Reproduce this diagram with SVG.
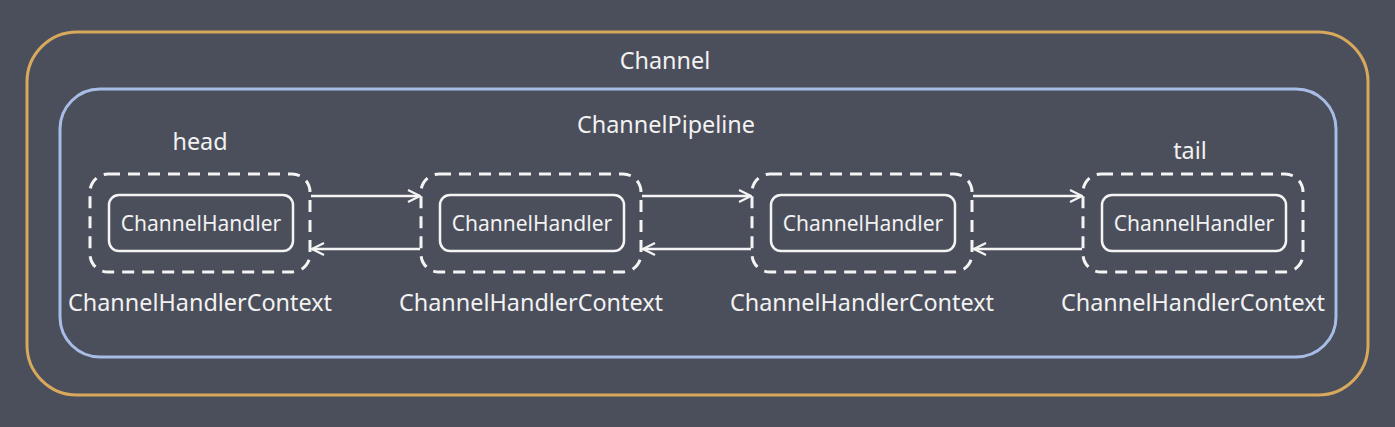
<svg xmlns="http://www.w3.org/2000/svg" width="1395" height="427" viewBox="0 0 1395 427">
<defs>
<style>
.t{font-family:"Noto Sans","Open Sans",sans-serif;fill:#f2f2f2;text-anchor:middle}
.lbl{font-size:23.4px}
.ch{font-size:21px}
.ctx{fill:none;stroke:#f4f4f4;stroke-width:3;stroke-dasharray:12 8}
.hd{fill:none;stroke:#f4f4f4;stroke-width:2.5}
.arr{fill:none;stroke:#f4f4f4;stroke-width:2.5}
</style>
<marker id="ah" viewBox="0 0 14 14" refX="13" refY="7" markerWidth="14" markerHeight="14" markerUnits="userSpaceOnUse" orient="auto">
<path d="M1,1 L13,7 L1,13" fill="none" stroke="#f4f4f4" stroke-width="2.2"/>
</marker>
</defs>
<rect x="0" y="0" width="1395" height="427" fill="#4b4f5b"/>
<g id="channel">
<rect x="27" y="32" width="1341" height="363" rx="50" fill="none" stroke="#d8a85c" stroke-width="3"/>
<text class="t lbl" x="665" y="69">Channel</text>
</g>
<g id="pipeline">
<rect x="60" y="89" width="1276" height="268" rx="40" fill="none" stroke="#a8bde6" stroke-width="3"/>
<text class="t lbl" x="666" y="133">ChannelPipeline</text>
</g>
<g id="ctx1">
<rect class="ctx" x="90" y="174" width="220" height="98" rx="18"/>
<rect class="hd" x="109" y="195" width="184" height="56" rx="10"/>
<text class="t ch" x="201" y="231">ChannelHandler</text>
<text class="t lbl" x="200" y="311">ChannelHandlerContext</text>
<text class="t lbl" x="200" y="150">head</text>
</g>
<g id="ctx2">
<rect class="ctx" x="421" y="174" width="220" height="98" rx="18"/>
<rect class="hd" x="440" y="195" width="184" height="56" rx="10"/>
<text class="t ch" x="532" y="231">ChannelHandler</text>
<text class="t lbl" x="531" y="311">ChannelHandlerContext</text>
</g>
<g id="ctx3">
<rect class="ctx" x="752" y="174" width="220" height="98" rx="18"/>
<rect class="hd" x="771" y="195" width="184" height="56" rx="10"/>
<text class="t ch" x="863" y="231">ChannelHandler</text>
<text class="t lbl" x="862" y="311">ChannelHandlerContext</text>
</g>
<g id="ctx4">
<rect class="ctx" x="1083" y="174" width="220" height="98" rx="18"/>
<rect class="hd" x="1102" y="195" width="184" height="56" rx="10"/>
<text class="t ch" x="1194" y="231">ChannelHandler</text>
<text class="t lbl" x="1193" y="311">ChannelHandlerContext</text>
<text class="t lbl" x="1190" y="159">tail</text>
</g>
<g id="connectors">
<path class="arr" d="M311,196 L420,196" marker-end="url(#ah)"/>
<path class="arr" d="M420,249 L312,249" marker-end="url(#ah)"/>
<path class="arr" d="M642,196 L751,196" marker-end="url(#ah)"/>
<path class="arr" d="M751,249 L643,249" marker-end="url(#ah)"/>
<path class="arr" d="M973,196 L1082,196" marker-end="url(#ah)"/>
<path class="arr" d="M1082,249 L974,249" marker-end="url(#ah)"/>
</g>
</svg>
